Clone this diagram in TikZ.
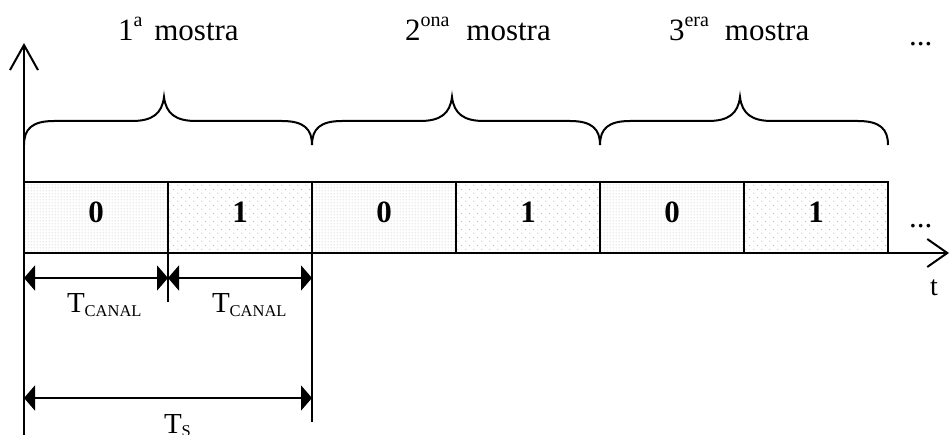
\documentclass[tikz,border=0pt]{standalone}
\usepackage{fontspec}
\setmainfont{Liberation Serif}
\usetikzlibrary{arrows.meta,patterns.meta}

% dense square grid of dots for the "0" slots
\tikzdeclarepattern{
  name=finedots, type=uncolored,
  bounding box={(0pt,0pt) and (3pt,3pt)},
  tile size={(3pt,3pt)},
  code={\fill (1.5pt,1.5pt) circle (0.6pt);}
}
% sparse staggered dots for the "1" slots
\tikzdeclarepattern{
  name=sparsedots, type=uncolored,
  bounding box={(0pt,0pt) and (8pt,8pt)},
  tile size={(8pt,8pt)},
  code={\fill (2pt,2pt) circle (0.65pt);
        \fill (6pt,6pt) circle (0.65pt);}
}

\newcommand\mysup[1]{\raisebox{14pt}{\fontsize{20}{20}\selectfont #1}}
\newcommand\mysub[1]{\raisebox{-3.5pt}{\fontsize{16.5}{17}\selectfont #1}}

\begin{document}
\begin{tikzpicture}[x=1pt,y=-1pt,
  line width=2pt,
  big/.style={font=\fontsize{31}{36}\selectfont, inner sep=0pt, anchor=base west},
  tlab/.style={font=\fontsize{29}{34}\selectfont, inner sep=0pt, anchor=base west},
  slot/.style={draw, minimum width=144pt, minimum height=71pt, inner sep=0pt,
    text height=21pt, text depth=10pt,
    font=\fontsize{31}{36}\selectfont\bfseries, preaction={fill=white}},
  slotzero/.style={slot, pattern=finedots, pattern color=gray!70},
  slotone/.style={slot, pattern=sparsedots, pattern color=gray!55},
  axis/.style={-{Straight Barb[length=25pt,width=28pt]}},
  taxis/.style={-{Straight Barb[length=20pt,width=28pt]}},
  dim/.style={{Triangle[length=11pt,width=25pt]}-{Triangle[length=11pt,width=25pt]}},
  brace/.style={line width=2pt}
]
\useasboundingbox (0,0) rectangle (950,435);
\clip (0,0) rectangle (950,435);

% axes
\coordinate (ybot) at (24,440);
\coordinate (ytop) at (24,43);
\coordinate (o)    at (24,253);
\coordinate (tend) at (949,253);

% time slots
\node[slotzero] (b1) at (96,217.5)  {0};
\node[slotone]  (b2) at (240,217.5) {1};
\node[slotzero] (b3) at (384,217.5) {0};
\node[slotone]  (b4) at (528,217.5) {1};
\node[slotzero] (b5) at (672,217.5) {0};
\node[slotone]  (b6) at (816,217.5) {1};

\draw[axis] (ybot) -- (ytop);
\draw[taxis] (o) -- (tend);

% braces grouping two slots per sample
\foreach \xa/\xb in {24/312,312/600,600/888}{
  \pgfmathsetmacro\xm{(\xa+\xb)/2-4}
  \draw[brace] (\xa,145) .. controls (\xa,129) and (\xa+8,121) .. (\xa+30,121)
    -- (\xm-32,121) .. controls (\xm-12,121) and (\xm-2,114) .. (\xm,97)
    .. controls (\xm+2,114) and (\xm+12,121) .. (\xm+32,121)
    -- (\xb-30,121) .. controls (\xb-8,121) and (\xb,129) .. (\xb,145);
}

% sample labels
\node[big] (m1) at (117,41) {1\mysup{a}\hspace{12pt}mostra};
\node[big] (m2) at (404,41) {2\mysup{ona}\hspace{17pt}mostra};
\node[big] (m3) at (668,41) {3\mysup{era}\hspace{16pt}mostra};
\node[big] (d1) at (908,46) {...};
\node[big] (d2) at (908,228) {...};
\node[font=\fontsize{28}{30}\selectfont, inner sep=0pt, anchor=base west] (tl) at (929,296) {t};

% dimension lines
\coordinate (c0) at (24,278);
\coordinate (c1) at (168,278);
\coordinate (c2) at (312,278);
\coordinate (s0) at (24,398);
\coordinate (s2) at (312,398);
\coordinate (k1) at (168,253);
\coordinate (k1b) at (168,302);
\coordinate (k2) at (312,253);
\coordinate (k2b) at (312,422);

\draw (k1) -- (k1b);
\draw (k2) -- (k2b);
\draw[dim] (c0) -- (c1);
\draw[dim] (c1) -- (c2);
\draw[dim] (s0) -- (s2);

\node[tlab] (tc1) at (66,313) {T\mysub{CANAL}};
\node[tlab] (tc2) at (211,313) {T\mysub{CANAL}};
\node[tlab] (ts)  at (163,433) {T\mysub{S}};
\end{tikzpicture}
\end{document}
